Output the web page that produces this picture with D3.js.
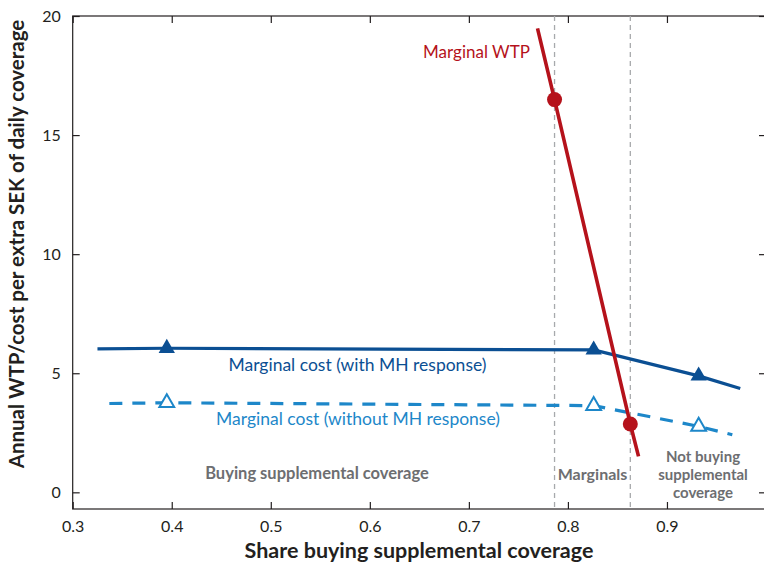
<!DOCTYPE html>
<html>
<head>
<meta charset="utf-8">
<script src="https://cdn.jsdelivr.net/npm/d3@7"></script>
<style>
  body { margin: 0; background: #fff; }
  svg { display: block; font-family: Lato, "Open Sans", sans-serif; }
</style>
</head>
<body>
<svg id="chart" width="764" height="562"></svg>
<script>
// ---- data ----
const xTicks = [0.3, 0.4, 0.5, 0.6, 0.7, 0.8, 0.9];
const yTicks = [0, 5, 10, 15, 20];

// marginal cost with moral hazard response (solid)
const shareMH = [0.325, 0.395, 0.826, 0.932, 0.974];
const costMH = [6.02, 6.05, 5.98, 4.89, 4.36];
// marginal cost without moral hazard response (dashed)
const shareNoMH = [0.337, 0.395, 0.826, 0.932, 0.966];
const costNoMH = [3.73, 3.76, 3.64, 2.77, 2.42];
// which points carry a triangle marker
const markerIdx = [1, 2, 3];

// marginal willingness to pay (red)
const shareWTP = [0.7693, 0.7865, 0.863, 0.8713];
const wtp = [19.48, 16.49, 2.87, 1.51];
const wtpDots = [1, 2];

// boundaries of the "marginals" band
const marginalBounds = [0.7865, 0.863];

const svg = d3.select('#chart');
const margin = { top: 16, right: -2, bottom: 53, left: 72.7 };
const width = 764;
const height = 562;

const x = d3.scaleLinear().domain([0.3, 1.0]).range([margin.left, width - margin.right]);
const y = d3.scaleLinear().domain([-0.7, 20]).range([height - margin.bottom, margin.top]);

const axisColor = '#231f20';
const darkBlue = '#0b4f93';
const lightBlue = '#1d87c9';
const red = '#b5121b';
const gray = '#6d6e71';

/* ---------- frame + inward ticks ---------- */
const frame = svg.append('g');
frame.append('rect')
  .attr('x', x.range()[0]).attr('y', y.range()[1])
  .attr('width', x.range()[1] - x.range()[0])
  .attr('height', y.range()[0] - y.range()[1])
  .attr('fill', 'none').attr('stroke', axisColor).attr('stroke-width', 1.2);

const tickLen = 7;
const bottomAxis = d3.axisBottom(x).tickValues(xTicks).tickSizeInner(-tickLen).tickSizeOuter(0).tickPadding(12).tickFormat(d3.format('.1f'));
const leftAxis = d3.axisLeft(y).tickValues(yTicks).tickSizeInner(-tickLen).tickSizeOuter(0).tickPadding(12);
const topAxis = d3.axisTop(x).tickValues(xTicks).tickSizeInner(-tickLen).tickSizeOuter(0).tickFormat('');
const rightAxis = d3.axisRight(y).tickValues(yTicks).tickSizeInner(-tickLen).tickSizeOuter(0).tickFormat('');

function styleAxis(g) {
  g.select('.domain').remove();
  g.selectAll('line').attr('stroke', axisColor).attr('stroke-width', 1.2);
  g.selectAll('text').attr('fill', axisColor).style('font-size', '16px').style('font-family', 'Lato, sans-serif');
}

frame.append('g').attr('transform', `translate(0,${y.range()[0]})`).call(bottomAxis).call(styleAxis);
frame.append('g').attr('transform', `translate(${x.range()[0]},0)`).call(leftAxis).call(styleAxis);
frame.append('g').attr('transform', `translate(0,${y.range()[1]})`).call(topAxis).call(styleAxis);
frame.append('g').attr('transform', `translate(${x.range()[1]},0)`).call(rightAxis).call(styleAxis);

/* ---------- marginal band boundaries ---------- */
svg.append('g').selectAll('line')
  .data(marginalBounds)
  .join('line')
  .attr('x1', d => x(d)).attr('x2', d => x(d))
  .attr('y1', y.range()[1]).attr('y2', y.range()[0])
  .attr('stroke', '#a7a9ac').attr('stroke-width', 1.3)
  .attr('stroke-dasharray', '5,4');

/* ---------- cost curves ---------- */
const line = d3.line().x(d => x(d[0])).y(d => y(d[1]));
const mhPts = shareMH.map((s, i) => [s, costMH[i]]);
const noMhPts = shareNoMH.map((s, i) => [s, costNoMH[i]]);

svg.append('path').datum(mhPts).attr('d', line)
  .attr('fill', 'none').attr('stroke', darkBlue).attr('stroke-width', 3.2);

svg.append('path').datum(noMhPts).attr('d', line)
  .attr('fill', 'none').attr('stroke', lightBlue).attr('stroke-width', 3.2)
  .attr('stroke-dasharray', '13,10');

const tri = d3.symbol().type(d3.symbolTriangle).size(115);

svg.append('g').selectAll('path')
  .data(markerIdx.map(i => mhPts[i]))
  .join('path')
  .attr('transform', d => `translate(${x(d[0])},${y(d[1])})`)
  .attr('d', tri)
  .attr('fill', darkBlue);

svg.append('g').selectAll('path')
  .data(markerIdx.map(i => noMhPts[i]))
  .join('path')
  .attr('transform', d => `translate(${x(d[0])},${y(d[1])})`)
  .attr('d', d3.symbol().type(d3.symbolTriangle).size(95))
  .attr('fill', '#fff').attr('stroke', lightBlue).attr('stroke-width', 2);

/* ---------- WTP curve ---------- */
const wtpPts = shareWTP.map((s, i) => [s, wtp[i]]);
svg.append('path').datum(wtpPts).attr('d', line)
  .attr('fill', 'none').attr('stroke', red).attr('stroke-width', 3.6);

svg.append('g').selectAll('circle')
  .data(wtpDots.map(i => wtpPts[i]))
  .join('circle')
  .attr('cx', d => x(d[0])).attr('cy', d => y(d[1]))
  .attr('r', 7.5)
  .attr('fill', red);

/* ---------- annotations ---------- */
function label(txt, px, py, color, size, weight) {
  return svg.append('text')
    .attr('x', px).attr('y', py)
    .attr('text-anchor', 'middle')
    .attr('fill', color)
    .style('font-size', size + 'px')
    .style('font-weight', weight || 400)
    .text(txt);
}

label('Marginal WTP', 476.5, 58, red, 17);
label('Marginal cost (with MH response)', 357.5, 371, darkBlue, 17.5);
label('Marginal cost (without MH response)', 358, 425, lightBlue, 17.5);
label('Buying supplemental coverage', 317, 479, gray, 16.5, 700);
label('Marginals', 592.5, 480, gray, 16, 700);
label('Not buying', 703, 462, gray, 15, 700);
label('supplemental', 703, 480, gray, 15, 700);
label('coverage', 703, 498, gray, 15, 700);

// axis titles
label('Share buying supplemental coverage', 419, 558, axisColor, 21.5, 700);
svg.append('text')
  .attr('transform', 'translate(24,244) rotate(-90)')
  .attr('text-anchor', 'middle')
  .attr('fill', axisColor)
  .style('font-size', '20.5px')
  .style('font-weight', 700)
  .text('Annual WTP/cost per extra SEK of daily coverage');
</script>
</body>
</html>
